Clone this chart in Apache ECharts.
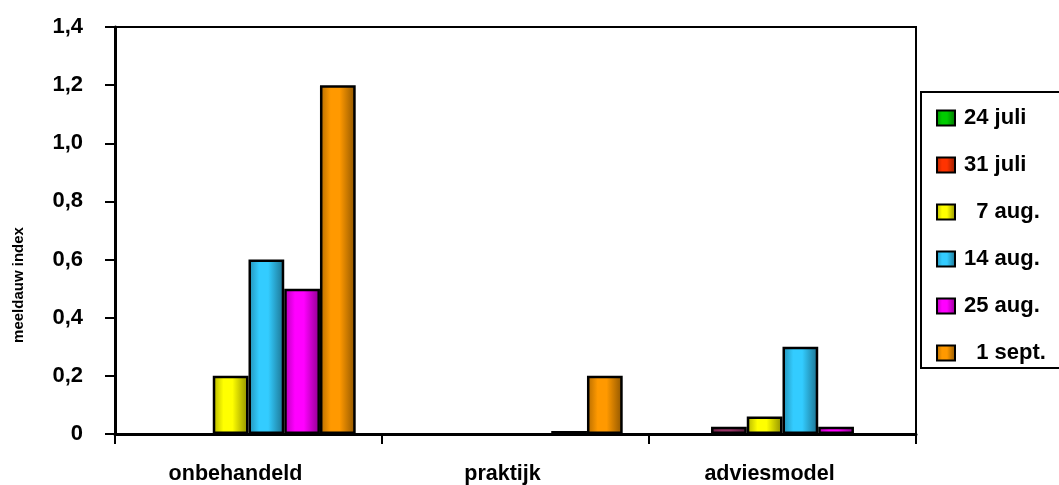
<!DOCTYPE html>
<html>
<head>
<meta charset="utf-8">
<script src="https://cdn.jsdelivr.net/npm/echarts@6/dist/echarts.min.js"></script>
<style>
  html, body { margin: 0; padding: 0; background: #fff; }
  #chart { width: 1059px; height: 485px; }
</style>
</head>
<body>
<div id="chart"></div>
<script>
// Meeldauw index per behandeling en waarnemingsdatum
const categories = ['onbehandeld', 'praktijk', 'adviesmodel'];
const seriesNames = ['24 juli', '31 juli', '  7 aug.', '14 aug.', '25 aug.', '  1 sept.'];
const juli24 = [0, 0, 0];
const juli31 = [0, 0, 0.025];
const aug7 = [0.2, 0, 0.06];
const aug14 = [0.6, 0, 0.3];
const aug25 = [0.5, 0.01, 0.025];
const sept1 = [1.2, 0.2, 0];
const yTickLabels = ['0', '0,2', '0,4', '0,6', '0,8', '1,0', '1,2', '1,4'];
const yAxisTitle = 'meeldauw index';

const values = [juli24, juli31, aug7, aug14, aug25, sept1];
const colors = ['#00CC00', '#FF3300', '#FFFF00', '#33CCFF', '#FF00FF', '#FF9900'];
const FONT = '"Liberation Sans", Arial, sans-serif';

function shade(hex, f) {
  const n = parseInt(hex.slice(1), 16);
  const r = Math.round(((n >> 16) & 255) * f);
  const g = Math.round(((n >> 8) & 255) * f);
  const b = Math.round((n & 255) * f);
  return 'rgb(' + r + ',' + g + ',' + b + ')';
}

// cylinder-like shading across each bar
function barFill(hex) {
  return new echarts.graphic.LinearGradient(0, 0, 1, 0, [
    { offset: 0, color: shade(hex, 0.7) },
    { offset: 0.3, color: hex },
    { offset: 0.55, color: hex },
    { offset: 1, color: shade(hex, 0.55) }
  ]);
}

const series = seriesNames.map(function (name, i) {
  return {
    name: name,
    type: 'bar',
    barGap: '0%',
    barCategoryGap: '19.7%',
    itemStyle: { color: barFill(colors[i]), borderColor: '#000', borderWidth: 2.5 },
    emphasis: { disabled: true },
    data: values[i].map(function (v, j) {
      // zero readings: no outline sitting on the axis
      if (v === 0) {
        return { value: v, itemStyle: { borderWidth: 0 } };
      }
      // the 31 juli point for adviesmodel is filled in plum
      if (i === 1 && j === 2) {
        return { value: v, itemStyle: { color: barFill('#993366') } };
      }
      return v;
    })
  };
});

const chart = echarts.init(document.getElementById('chart'));
chart.setOption({
  animation: false,
  backgroundColor: '#fff',
  grid: {
    left: 115, right: 143, top: 27, bottom: 49,
    show: true, borderColor: '#000', borderWidth: 2, backgroundColor: 'transparent'
  },
  legend: {
    orient: 'vertical',
    left: 921, top: 92,
    padding: [15, 40, 4, 15],
    itemGap: 25,
    itemWidth: 18, itemHeight: 15,
    icon: 'rect',
    borderColor: '#000', borderWidth: 2,
    itemStyle: { borderColor: '#000', borderWidth: 2 },
    textStyle: { fontFamily: FONT, fontWeight: 'bold', fontSize: 22, lineHeight: 22, color: '#000', padding: [0, 0, 0, 4] }
  },
  xAxis: {
    type: 'category',
    data: categories,
    axisLine: { show: true, lineStyle: { color: '#000', width: 3 } },
    axisTick: { show: true, length: 10, lineStyle: { color: '#000', width: 2 } },
    axisLabel: {
      fontFamily: FONT, fontWeight: 'bold', fontSize: 21.5, color: '#000',
      margin: 29, padding: [0, 26, 0, 0]
    },
    splitLine: { show: false }
  },
  yAxis: {
    type: 'value',
    min: 0, max: 1.4, interval: 0.2,
    axisLine: { show: true, lineStyle: { color: '#000', width: 3 } },
    axisTick: { show: true, length: 10, lineStyle: { color: '#000', width: 2 } },
    axisLabel: {
      fontFamily: FONT, fontWeight: 'bold', fontSize: 22, color: '#000', margin: 32,
      formatter: function (v) { return yTickLabels[Math.round(v / 0.2)]; }
    },
    splitLine: { show: false }
  },
  graphic: [{
    type: 'text',
    x: 19, y: 285,
    rotation: Math.PI / 2,
    style: {
      text: yAxisTitle,
      fontFamily: FONT, fontWeight: 'bold', fontSize: 15,
      fill: '#000', align: 'center', verticalAlign: 'middle'
    }
  }],
  series: series
});
</script>
</body>
</html>
